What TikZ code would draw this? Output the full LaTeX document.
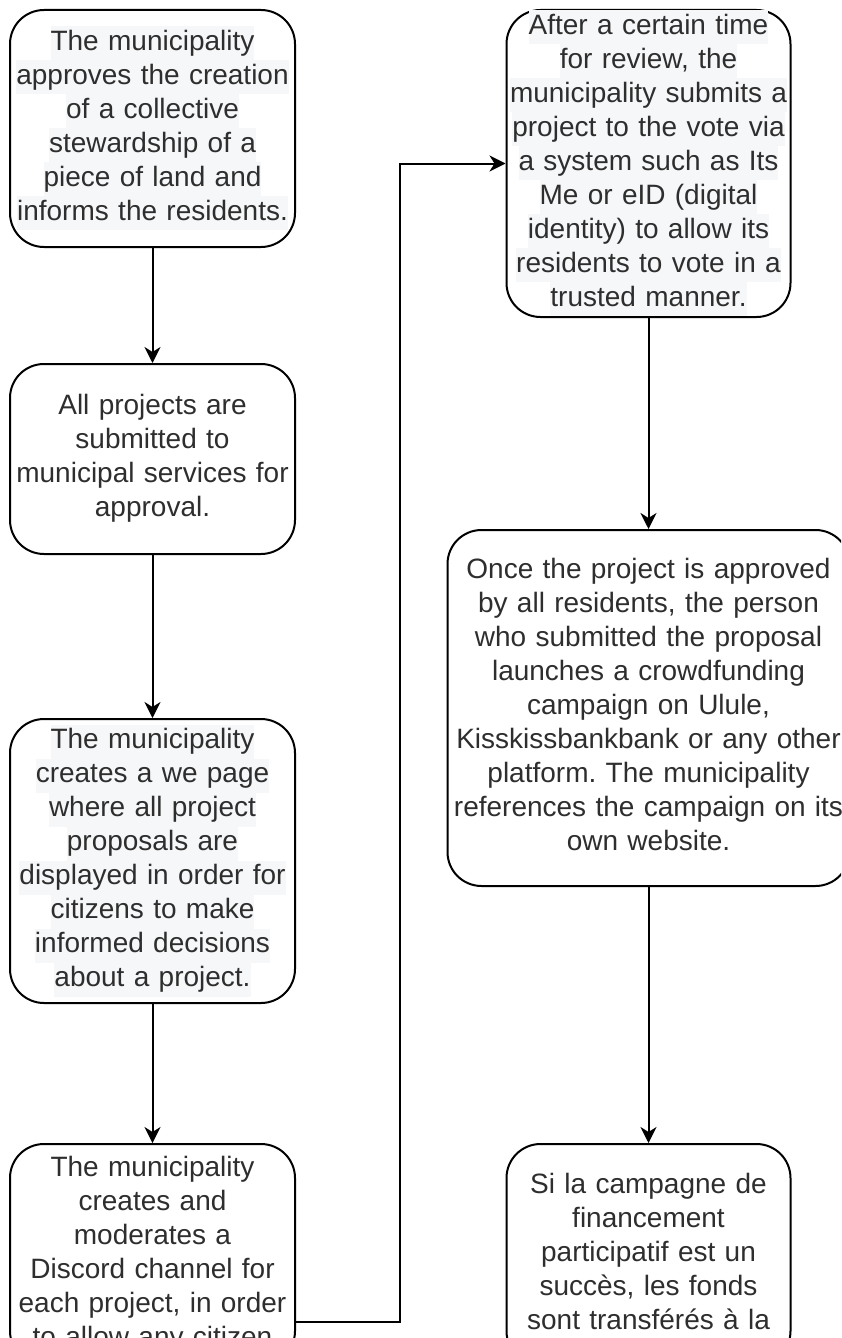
\documentclass[tikz,border=0pt]{standalone}
\usepackage{fontspec}
\setmainfont{Liberation Sans}
\usetikzlibrary{arrows.meta}
\definecolor{txtgray}{HTML}{2E2E2E}
\definecolor{hlgray}{HTML}{F6F7F9}
\newcommand{\hl}[1]{{\setlength{\fboxsep}{0pt}\colorbox{hlgray}{\strut#1}}}
\frenchspacing

\begin{document}
\begin{tikzpicture}[x=0.5pt,y=-0.5pt,
    stepbox/.style={draw=black, line width=1pt, rounded corners=17pt, fill=white,
        text=txtgray, align=center, inner sep=0pt, font=\fontsize{14}{17}\selectfont,
        execute at begin node=\strut, execute at end node=\strut},
    arr/.style={line width=1pt, -{Stealth[length=8pt,width=8pt,inset=2.5pt]}}]
                \useasboundingbox (0,0) rectangle (841,1338);
                \clip (0,0) rectangle (841,1338);
                % Draw the left column
                \node[stepbox, text width=142.5pt, minimum height=118.5pt] (steward) at (152.5,128.5)
                    {\hl{The municipality}\\\hl{approves the creation}\\\hl{of a collective}\\
                     \hl{stewardship of a}\\\hl{piece of land and}\\\hl{informs the residents.}};
                \node[stepbox, text width=142.5pt, minimum height=95pt] (review) at (152.5,459)
                    {All projects are\\submitted to\\municipal services for\\approval.};
                \node[stepbox, text width=142.5pt, minimum height=142pt] (webpage) at (152.5,861)
                    {\hl{The municipality}\\\hl{creates a we page}\\\hl{where all project}\\\hl{proposals are}\\
                     \hl{displayed in order for}\\\hl{citizens to make}\\\hl{informed decisions}\\\hl{about a project.}};
                \node[stepbox, text width=142.5pt, minimum height=110.5pt] (discord) at (152.5,1254.5)
                    {The municipality\\creates and\\moderates a\\Discord channel for\\each project, in order\\to allow any citizen};
                % Draw the right column
                \node[stepbox, text width=142pt, minimum height=153.5pt] (vote) at (648.5,163.5)
                    {\hl{After a certain time}\\\hl{for review, the}\\\hl{municipality submits a}\\
                     \hl{project to the vote via}\\\hl{a system such as Its}\\\hl{Me or eID (digital}\\
                     \hl{identity) to allow its}\\\hl{residents to vote in a}\\\hl{trusted manner.}};
                \node[stepbox, text width=201pt, minimum height=178pt] (funding) at (648.5,708)
                    {Once the project is approved\\by all residents, the person\\who submitted the proposal\\
                     launches a crowdfunding\\campaign on Ulule,\\Kisskissbankbank or any other\\
                     platform. The municipality\\references the campaign on its\\own website.};
                \node[stepbox, text width=142pt, minimum height=110.5pt] (transfer) at (648.5,1254.5)
                    {Si la campagne de\\financement\\participatif est un\\succès, les fonds\\sont transférés à la};
                % Draw the arrows
                \draw[arr] (steward.south) -- (review.north);
                \draw[arr] (review.south) -- (webpage.north);
                \draw[arr] (webpage.south) -- (discord.north);
                \coordinate (turn) at (400,1322);
                \draw[arr] (discord.east |- turn) -- (turn) |- (vote.west);
                \draw[arr] (vote.south) -- (funding.north);
                \draw[arr] (funding.south) -- (transfer.north);
\end{tikzpicture}
\end{document}
